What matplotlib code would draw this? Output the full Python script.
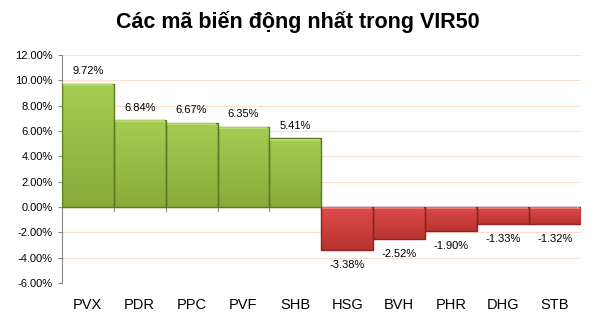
import matplotlib.pyplot as plt
import numpy as np
from matplotlib.colors import LinearSegmentedColormap

# data
codes = ["PVX", "PDR", "PPC", "PVF", "SHB", "HSG", "BVH", "PHR", "DHG", "STB"]
changes = [9.72, 6.84, 6.67, 6.35, 5.41, -3.38, -2.52, -1.90, -1.33, -1.32]
yticks = [-6, -4, -2, 0, 2, 4, 6, 8, 10, 12]

plt.rcParams['font.family'] = ['Liberation Sans', 'DejaVu Sans']

fig = plt.figure(figsize=(5.95, 3.2), dpi=100)
ax = fig.add_axes([0.104, 0.116, 0.872, 0.712])

x = np.arange(len(codes))
green = LinearSegmentedColormap.from_list("g", ["#8aab3a", "#a6cc52"])
red = LinearSegmentedColormap.from_list("r", ["#b83431", "#de4a47"])
edge = ["#5d7a22" if v >= 0 else "#8c2320" for v in changes]
light = ["#c2df7c" if v >= 0 else "#ee8582" for v in changes]

bars = ax.bar(x, changes, width=1.0, color="none", edgecolor=edge, linewidth=1.0, zorder=4)
grad = np.linspace(0, 1, 100).reshape(-1, 1)
for b, v in zip(bars, changes):
    x0, w = b.get_x(), b.get_width()
    cmap = green if v >= 0 else red
    im = ax.imshow(grad, cmap=cmap, aspect="auto", origin="lower",
                   extent=[x0, x0 + w, min(0, v), max(0, v)], zorder=3)
    im.set_clip_path(b)

# light bevel along the top edge of each bar
for xi, v, c in zip(x, changes, light):
    ax.plot([xi - 0.46, xi + 0.46], [max(0, v) - 0.09] * 2, color=c, lw=1.2, zorder=5)

for xi, v in zip(x, changes):
    if v >= 0:
        ax.text(xi, v + 0.6, f"{v:.2f}%", ha="center", va="bottom", fontsize=8)
    else:
        ax.text(xi, v - 0.8, f"{v:.2f}%", ha="center", va="top", fontsize=8)

ax.set_xlim(-0.5, len(codes) - 0.5)
ax.set_ylim(-6, 12)
ax.set_yticks(yticks)
ax.set_yticklabels([f"{t:.2f}%" for t in yticks], fontsize=8)
ax.yaxis.grid(True, color="#fbe0cc", lw=0.8, zorder=0)

ax.set_xticks(x)
ax.set_xticklabels(codes, fontsize=10.5)
ax.tick_params(axis="x", length=0, pad=11)
for b in np.arange(0.5, len(codes) - 1, 1.0):
    ax.plot([b, b], [0, -0.3], color="#888888", lw=0.8, zorder=2)
ax.axhline(0, color="#888888", lw=0.8, zorder=2)

for s in ["top", "right", "bottom"]:
    ax.spines[s].set_visible(False)
ax.spines["left"].set_color("#888888")
ax.tick_params(axis="y", color="#888888", length=3)

fig.suptitle("Các mã biến động nhất trong VIR50", fontsize=15.5, fontweight="bold", y=0.965)

fig.savefig("out.png", dpi=100)
